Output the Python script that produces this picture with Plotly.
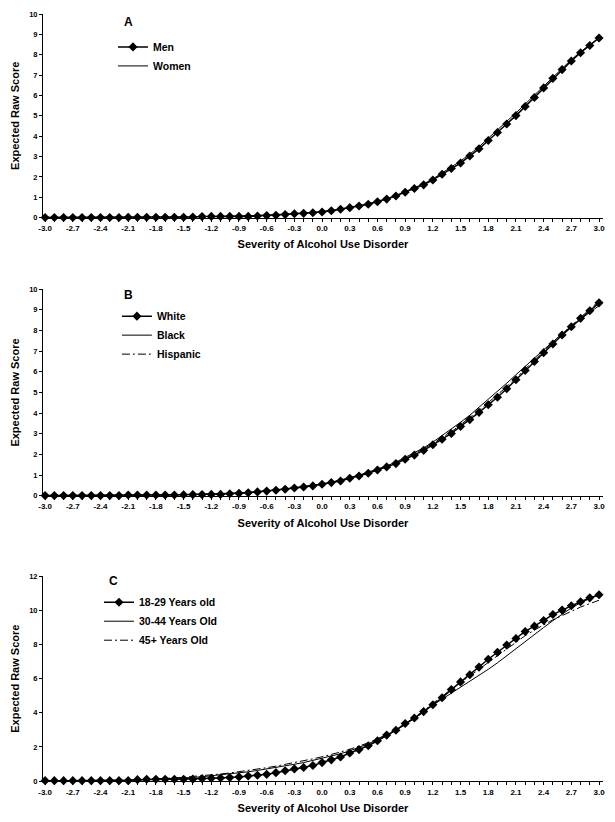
import plotly.graph_objects as go

# severity categories (-3.0 .. 3.0 in 0.1 steps)
SEVERITY = [-3.0, -2.9, -2.8, -2.7, -2.6, -2.5, -2.4, -2.3, -2.2, -2.1,
            -2.0, -1.9, -1.8, -1.7, -1.6, -1.5, -1.4, -1.3, -1.2, -1.1,
            -1.0, -0.9, -0.8, -0.7, -0.6, -0.5, -0.4, -0.3, -0.2, -0.1,
            0.0, 0.1, 0.2, 0.3, 0.4, 0.5, 0.6, 0.7, 0.8, 0.9,
            1.0, 1.1, 1.2, 1.3, 1.4, 1.5, 1.6, 1.7, 1.8, 1.9,
            2.0, 2.1, 2.2, 2.3, 2.4, 2.5, 2.6, 2.7, 2.8, 2.9, 3.0]
X_TICKVALS = [-3.0, -2.7, -2.4, -2.1, -1.8, -1.5, -1.2, -0.9, -0.6, -0.3,
              0.0, 0.3, 0.6, 0.9, 1.2, 1.5, 1.8, 2.1, 2.4, 2.7, 3.0]
X_TICKTEXT = ["-3.0", "-2.7", "-2.4", "-2.1", "-1.8", "-1.5", "-1.2", "-0.9", "-0.6", "-0.3",
              "0.0", "0.3", "0.6", "0.9", "1.2", "1.5", "1.8", "2.1", "2.4", "2.7", "3.0"]

# Panel A: gender
MEN = [0.01, 0.01, 0.01, 0.01, 0.01, 0.01, 0.01, 0.01, 0.01, 0.02,
       0.02, 0.02, 0.02, 0.02, 0.02, 0.02, 0.03, 0.05, 0.06, 0.06,
       0.06, 0.06, 0.06, 0.08, 0.10, 0.12, 0.15, 0.19, 0.21, 0.24,
       0.28, 0.34, 0.41, 0.49, 0.57, 0.66, 0.78, 0.91, 1.06, 1.25,
       1.43, 1.61, 1.85, 2.13, 2.41, 2.68, 3.03, 3.38, 3.79, 4.18,
       4.60, 5.01, 5.46, 5.90, 6.37, 6.84, 7.27, 7.69, 8.10, 8.45, 8.82]
WOMEN = [0.01, 0.01, 0.01, 0.01, 0.01, 0.01, 0.01, 0.01, 0.02, 0.02,
         0.02, 0.02, 0.03, 0.03, 0.03, 0.04, 0.04, 0.05, 0.06, 0.06,
         0.07, 0.07, 0.08, 0.09, 0.11, 0.13, 0.16, 0.19, 0.22, 0.26,
         0.30, 0.35, 0.42, 0.50, 0.58, 0.68, 0.80, 0.93, 1.09, 1.28,
         1.47, 1.66, 1.90, 2.18, 2.47, 2.78, 3.12, 3.48, 3.90, 4.30,
         4.72, 5.14, 5.58, 6.02, 6.48, 6.93, 7.36, 7.76, 8.14, 8.50, 8.84]

# Panel B: race / ethnicity
WHITE = [0.01, 0.01, 0.01, 0.01, 0.01, 0.01, 0.01, 0.01, 0.01, 0.04,
         0.04, 0.04, 0.04, 0.04, 0.04, 0.05, 0.06, 0.06, 0.07, 0.07,
         0.10, 0.12, 0.15, 0.19, 0.23, 0.27, 0.32, 0.38, 0.43, 0.48,
         0.56, 0.64, 0.72, 0.85, 0.96, 1.09, 1.25, 1.40, 1.56, 1.77,
         1.97, 2.20, 2.47, 2.74, 3.02, 3.36, 3.69, 4.04, 4.41, 4.77,
         5.18, 5.62, 6.07, 6.50, 6.93, 7.35, 7.78, 8.18, 8.59, 8.96, 9.34]
BLACK = [0.01, 0.01, 0.01, 0.01, 0.01, 0.02, 0.02, 0.02, 0.02, 0.03,
         0.03, 0.04, 0.04, 0.05, 0.05, 0.06, 0.07, 0.08, 0.09, 0.10,
         0.12, 0.14, 0.17, 0.20, 0.24, 0.28, 0.33, 0.39, 0.44, 0.50,
         0.58, 0.66, 0.76, 0.88, 1.00, 1.14, 1.28, 1.45, 1.63, 1.85,
         2.07, 2.32, 2.60, 2.92, 3.20, 3.56, 3.90, 4.28, 4.66, 5.05,
         5.45, 5.86, 6.28, 6.68, 7.07, 7.45, 7.85, 8.20, 8.55, 8.88, 9.20]
HISPANIC = [0.01, 0.01, 0.01, 0.01, 0.01, 0.01, 0.02, 0.02, 0.02, 0.03,
            0.03, 0.03, 0.04, 0.04, 0.05, 0.05, 0.06, 0.07, 0.08, 0.09,
            0.11, 0.13, 0.16, 0.19, 0.23, 0.27, 0.32, 0.38, 0.43, 0.49,
            0.57, 0.65, 0.74, 0.86, 0.98, 1.11, 1.27, 1.42, 1.60, 1.81,
            2.02, 2.26, 2.53, 2.82, 3.10, 3.44, 3.78, 4.14, 4.51, 4.88,
            5.28, 5.71, 6.15, 6.57, 7.00, 7.42, 7.84, 8.25, 8.65, 9.03, 9.42]

# Panel C: age group
AGE_18_29 = [0.02, 0.02, 0.02, 0.02, 0.02, 0.02, 0.02, 0.02, 0.02, 0.02,
             0.08, 0.10, 0.10, 0.10, 0.10, 0.10, 0.11, 0.14, 0.16, 0.18,
             0.20, 0.24, 0.29, 0.34, 0.39, 0.49, 0.60, 0.71, 0.79, 0.91,
             1.08, 1.24, 1.41, 1.64, 1.84, 2.07, 2.36, 2.69, 2.98, 3.37,
             3.69, 4.07, 4.47, 4.88, 5.36, 5.81, 6.23, 6.68, 7.14, 7.55,
             7.97, 8.36, 8.77, 9.08, 9.41, 9.76, 10.02, 10.28, 10.51, 10.74, 10.92]
AGE_30_44 = [0.02, 0.02, 0.02, 0.02, 0.02, 0.02, 0.02, 0.02, 0.02, 0.04,
             0.06, 0.08, 0.10, 0.12, 0.15, 0.18, 0.21, 0.25, 0.30, 0.35,
             0.41, 0.47, 0.54, 0.62, 0.70, 0.79, 0.88, 0.98, 1.08, 1.20,
             1.32, 1.45, 1.60, 1.77, 1.96, 2.18, 2.42, 2.68, 2.97, 3.30,
             3.66, 4.05, 4.45, 4.80, 5.12, 5.45, 5.80, 6.17, 6.55, 6.93,
             7.35, 7.78, 8.20, 8.60, 9.00, 9.40, 9.80, 10.15, 10.45, 10.70, 10.90]
AGE_45_PLUS = [0.02, 0.02, 0.02, 0.02, 0.02, 0.02, 0.02, 0.02, 0.02, 0.05,
               0.07, 0.09, 0.12, 0.15, 0.18, 0.22, 0.26, 0.30, 0.35, 0.41,
               0.47, 0.54, 0.61, 0.69, 0.78, 0.87, 0.97, 1.07, 1.18, 1.30,
               1.42, 1.55, 1.70, 1.86, 2.04, 2.24, 2.47, 2.72, 3.00, 3.35,
               3.72, 4.12, 4.55, 4.98, 5.38, 5.78, 6.15, 6.55, 6.95, 7.35,
               7.75, 8.15, 8.52, 8.85, 9.15, 9.45, 9.70, 9.95, 10.20, 10.40, 10.60]

FONT = "Arial, 'Liberation Sans', sans-serif"
HISPANIC_DASH = "8px,3px,2px,3px"

panels = [
    # (axis suffix, legend id, label, y max, y dtick, series)
    ("", "legend", "A", 10, 1,
     [("Men", MEN, "marker"), ("Women", WOMEN, "solid")]),
    ("2", "legend2", "B", 10, 1,
     [("White", WHITE, "marker"), ("Black", BLACK, "solid"), ("Hispanic", HISPANIC, "dashdot")]),
    ("3", "legend3", "C", 12, 2,
     [("18-29 Years old", AGE_18_29, "marker"), ("30-44 Years Old", AGE_30_44, "solid"),
      ("45+ Years Old", AGE_45_PLUS, "dashdot")]),
]

fig = go.Figure()
for suffix, legend_id, _, _, _, series in panels:
    for name, values, style in series:
        if style == "marker":
            kw = dict(mode="lines+markers", line=dict(color="black", width=1.5),
                      marker=dict(symbol="diamond", size=7, color="black"))
        elif style == "solid":
            kw = dict(mode="lines", line=dict(color="black", width=1))
        else:
            kw = dict(mode="lines", line=dict(color="black", width=1, dash=HISPANIC_DASH))
        fig.add_trace(go.Scatter(x=SEVERITY, y=values, name=name, xaxis="x" + suffix,
                                 yaxis="y" + suffix, legend=legend_id, cliponaxis=False, **kw))

# plot area l=43 r=12 t=10 b=40 -> domains in paper coords
domains = [[0.7345, 1.0], [0.3718, 0.6412], [0.0, 0.2668]]
legend_pos = [(0.125, 0.976), (0.132, 0.625), (0.100, 0.252)]
label_pos = [(0.152, 0.9896), (0.152, 0.6334), (0.125, 0.2604)]

layout = dict(width=615, height=822, margin=dict(l=43, r=12, t=10, b=40),
              plot_bgcolor="white", paper_bgcolor="white",
              font=dict(family=FONT, color="black"), annotations=[])
for i, (suffix, legend_id, label, ymax, ydtick, _) in enumerate(panels):
    layout["xaxis" + suffix] = dict(
        domain=[0, 1], anchor="y" + suffix, range=[-3.023, 3.043],
        tickvals=X_TICKVALS, ticktext=X_TICKTEXT, ticks="outside", ticklen=3,
        tickcolor="black", showline=True, linecolor="black", linewidth=1,
        showgrid=False, zeroline=False,
        minor=dict(dtick=0.1, tick0=-3.0, ticks="outside", ticklen=3, tickcolor="black",
                   showgrid=False),
        tickfont=dict(size=8, weight="bold"),
        title=dict(text="Severity of Alcohol Use Disorder", standoff=8,
                   font=dict(size=11, weight="bold")))
    layout["yaxis" + suffix] = dict(
        domain=domains[i], anchor="x" + suffix, range=[0, ymax], dtick=ydtick,
        ticks="outside", ticklen=3, tickcolor="black", showline=True,
        linecolor="black", linewidth=1, showgrid=False, zeroline=False,
        tickfont=dict(size=7.5, weight="bold"),
        title=dict(text="Expected Raw Score", standoff=7,
                   font=dict(size=11, weight="bold")))
    layout[legend_id] = dict(x=legend_pos[i][0], y=legend_pos[i][1], xanchor="left",
                             yanchor="top", bgcolor="rgba(0,0,0,0)",
                             font=dict(size=10.5, weight="bold"), tracegroupgap=0)
    layout["annotations"].append(dict(text=label, x=label_pos[i][0], y=label_pos[i][1],
                                      xref="paper", yref="paper", showarrow=False,
                                      xanchor="center", yanchor="middle",
                                      font=dict(size=12, weight="bold")))

fig.update_layout(**layout)
fig.write_html("out.html", config={"displayModeBar": False},
               post_script="document.body.style.margin='0';")
